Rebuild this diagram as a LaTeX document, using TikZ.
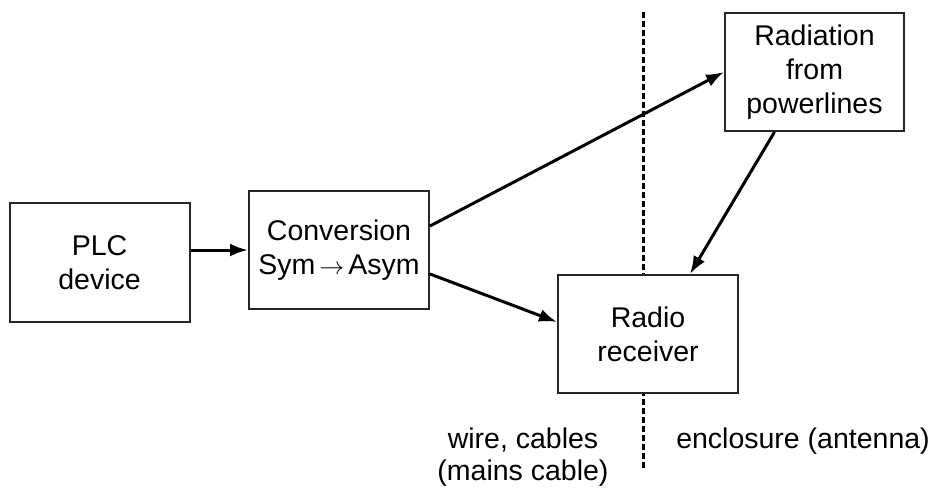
\documentclass[tikz,border=0pt]{standalone}
\usepackage{fontspec}
\setmainfont{Liberation Sans}
\usetikzlibrary{arrows.meta}
\begin{document}
\begin{tikzpicture}[x=1pt,y=-1pt,
  blk/.style={draw=black!85,line width=2pt,fill=white,minimum width=180pt,minimum height=118pt,inner sep=0pt,align=center,font=\fontsize{28.5}{34}\selectfont},
  conn/.style={line width=3pt,-{Latex[length=18pt,width=13pt]}},
  lbl/.style={font=\fontsize{28.5}{32}\selectfont,align=center,inner sep=0pt}]
\useasboundingbox (0,0) rectangle (937,490);
\coordinate (dtop) at (643,12);
\coordinate (dbot) at (643,470);
\draw[line width=3pt,dash pattern=on 6pt off 3pt] (dtop) -- (dbot);
\node[blk,minimum height=119pt] (plc) at (99.5,262.5) {PLC\\device};
\node[blk] (conv) at (339,250) {Conversion\\Sym$\,\rightarrow\,$Asym};
\node[blk,minimum width=179pt] (rad) at (814.5,72) {Radiation\\from\\powerlines};
\node[blk] (radio) at (648,334) {Radio\\receiver};
\draw[conn] (plc.east |- conv.west) -- (conv.west);
\draw[conn] ([yshift=24pt]conv.east) -- (rad.west);
\draw[conn] ([yshift=-24pt]conv.east) -- ([yshift=12pt]radio.west);
\draw[conn] ([xshift=-40pt]rad.south) -- ([xshift=42pt]radio.north);
\node[lbl] (wire) at (523,457) {wire, cables\\(mains cable)};
\node[lbl] (encl) at (803,441) {enclosure (antenna)};
\end{tikzpicture}
\end{document}
